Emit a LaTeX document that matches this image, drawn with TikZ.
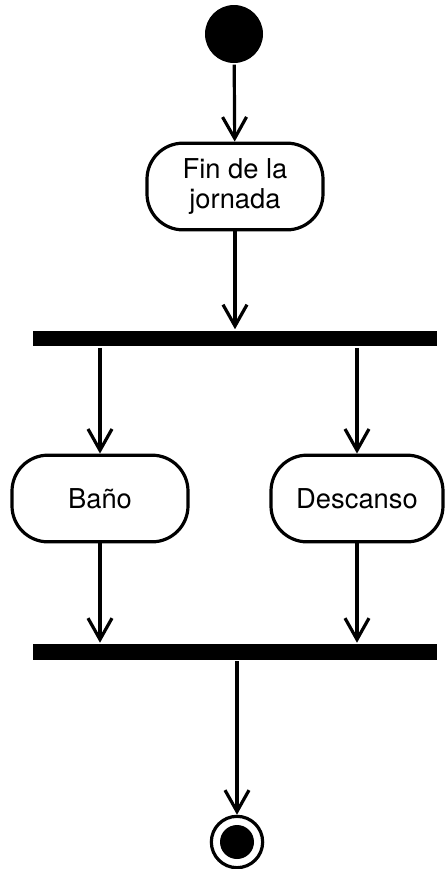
\documentclass[tikz,border=0pt]{standalone}
\usepackage{fontspec}
\setmainfont{TeX Gyre Heros}
\usetikzlibrary{arrows.meta}

\tikzset{every picture/.style={line width=2.4pt}}
\tikzset{
	activity/.style={draw, rounded corners=27pt, minimum width=132pt, minimum height=65pt, align=center, font=\fontsize{20.5}{22.5}\selectfont},
	syncbar/.style={fill=black, inner sep=0pt, minimum width=303pt, minimum height=11.5pt},
	flow/.style={-{Straight Barb[length=16pt,width=18pt,line width=2.4pt]}},
}

\begin{document}
\begin{tikzpicture}[x=0.75pt,y=0.75pt,yscale=-1,xscale=1]
		\useasboundingbox (0,0) rectangle (445,869); %diagram frame, as the reference
		
		%Initial state
		\node [circle, fill=black, inner sep=0pt, minimum size=43.5pt] (start) at (234,34) {};
		%Activities
		\node [activity] (fin) at (235,186.5) {Fin de la\\jornada};
		\node [activity] (bano) at (100,498.5) {Baño};
		\node [activity, minimum width=129pt] (descanso) at (357,498.5) {Descanso};
		%Fork / join bars
		\node [syncbar] (fork) at (235,338.5) {};
		\node [syncbar] (join) at (235,652) {};
		%Final state
		\node [circle, draw, inner sep=0pt, minimum size=38.5pt,
			path picture={\fill (path picture bounding box.center) circle (12.75pt);}] (end) at (237,842) {};
		
		%Transitions
		\draw [flow] (start) -- (fin);
		\draw [flow] (fin) -- (fin |- fork.north);
		\draw [flow] (bano |- fork.south) -- (bano);
		\draw [flow] (descanso |- fork.south) -- (descanso);
		\draw [flow] (bano) -- (bano |- join.north);
		\draw [flow] (descanso) -- (descanso |- join.north);
		\draw [flow] (end |- join.south) -- (end);
		
	\end{tikzpicture}
\end{document}
